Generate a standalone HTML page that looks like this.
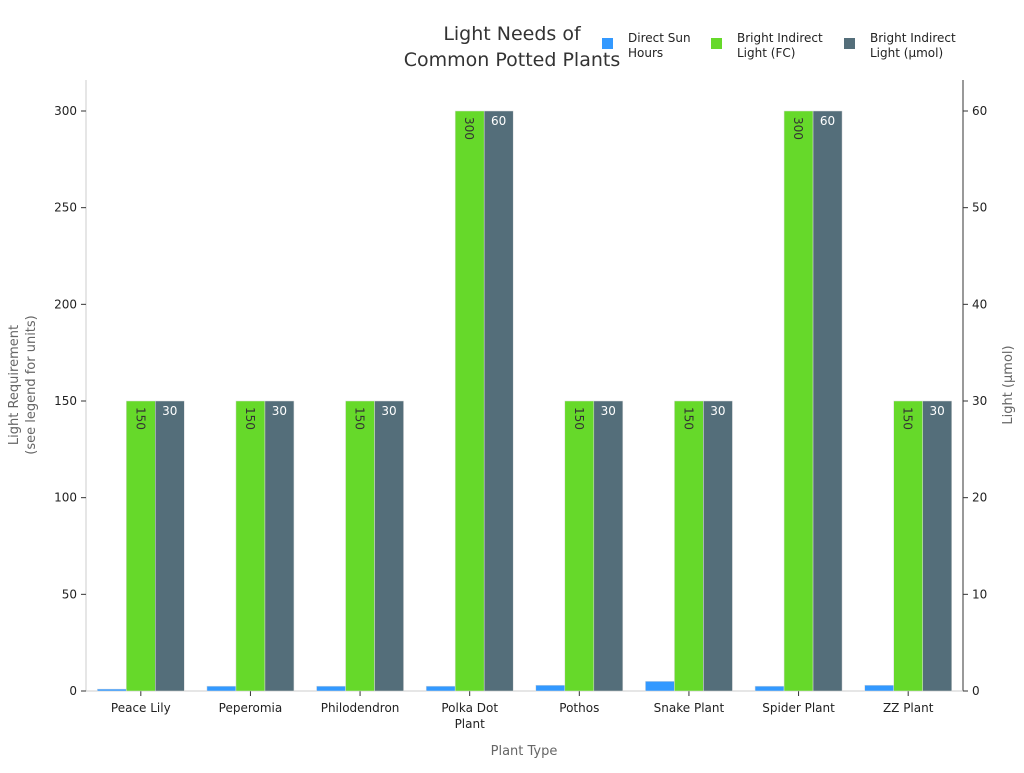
<!DOCTYPE html>
<html><head><meta charset="utf-8"><style>
body{margin:0;background:#fff;font-family:"Liberation Sans","DejaVu Sans",sans-serif;}
svg text{font-family:"DejaVu Sans","Liberation Sans",sans-serif;}
</style></head><body>
<svg id="c" width="1024" height="768" xmlns="http://www.w3.org/2000/svg"></svg>
<script>
const categories=["Peace Lily","Peperomia","Philodendron","Polka Dot|Plant","Pothos","Snake Plant","Spider Plant","ZZ Plant"];
const sunHours=[1,2.5,2.5,2.5,3,5,2.5,3];
const fcValues=[150,150,150,300,150,150,300,150];
const umolValues=[30,30,30,60,30,30,60,30];
const leftTicks=[0,50,100,150,200,250,300];
const rightTicks=[0,10,20,30,40,50,60];
const svg=document.getElementById('c');const NS="http://www.w3.org/2000/svg";
function el(t,a,txt,name){const e=document.createElementNS(NS,t);for(const k in a)e.setAttribute(k,a[k]);if(txt!==undefined)e.textContent=txt;


svg.appendChild(e);return e;}
const X0=86,X1=963,Y0=691,Y300=111;
const yL=v=>Y0-(v/300)*(Y0-Y300);
const yR=v=>Y0-(v/60)*(Y0-Y300);
const band=(X1-X0)/categories.length;
const cx=i=>X0+band*(i+0.5);
const bw=29;
// axes
el('line',{x1:X0,y1:80,x2:X0,y2:Y0,stroke:'#ccc'},undefined,'left-axis');
el('line',{x1:X1,y1:80,x2:X1,y2:Y0,stroke:'#333'},undefined,'right-axis');
el('line',{x1:X0,y1:Y0,x2:X1,y2:Y0,stroke:'#ccc'},undefined,'x-axis');
leftTicks.forEach(v=>{el('line',{x1:X0-5,y1:yL(v),x2:X0,y2:yL(v),stroke:'#333'},undefined,'left-tick');
el('text',{x:X0-9,y:yL(v)+4,'text-anchor':'end','font-size':12,fill:'#222'},v,'left-tick-label');});
rightTicks.forEach(v=>{el('line',{x1:X1,y1:yR(v),x2:X1+5,y2:yR(v),stroke:'#333'},undefined,'right-tick');
el('text',{x:X1+9,y:yR(v)+4,'font-size':12,fill:'#222'},v,'right-tick-label');});
categories.forEach((c,i)=>{const x=cx(i);
el('line',{x1:x,y1:Y0,x2:x,y2:Y0+5,stroke:'#333'},undefined,'x-tick');
c.split('|').forEach((p,j)=>el('text',{x:x,y:712+j*16,'text-anchor':'middle','font-size':12,fill:'#222'},p,'x-tick-label'));
const bx=x-1.5*bw;
el('rect',{x:bx,y:yL(sunHours[i]),width:bw,height:Y0-yL(sunHours[i]),fill:'#3399ff',stroke:'#ddd','stroke-width':0.5},undefined,'bar-sun-hours');
el('rect',{x:bx+bw,y:yL(fcValues[i]),width:bw,height:Y0-yL(fcValues[i]),fill:'#66d92a',stroke:'#ddd','stroke-width':0.5},undefined,'bar-fc');
el('rect',{x:bx+2*bw,y:yR(umolValues[i]),width:bw,height:Y0-yR(umolValues[i]),fill:'#546e7a',stroke:'#ddd','stroke-width':0.5},undefined,'bar-umol');
const gx=bx+bw+10,gy=yL(fcValues[i])+6;
el('text',{x:gx,y:gy,transform:`rotate(90 ${gx} ${gy})`,'font-size':12,fill:'#333'},fcValues[i],'fc-value-label');
el('text',{x:bx+2.5*bw,y:yR(umolValues[i])+14,'text-anchor':'middle','font-size':12,fill:'#fff'},umolValues[i],'umol-value-label');
});
el('text',{x:512,y:40,'text-anchor':'middle','font-size':19,fill:'#333'},'Light Needs of','chart-title');
el('text',{x:512,y:66,'text-anchor':'middle','font-size':19,fill:'#333'},'Common Potted Plants','chart-title');
el('text',{x:524,y:755,'text-anchor':'middle','font-size':13,fill:'#666'},'Plant Type','x-axis-title');
el('text',{x:0,y:0,transform:'translate(18 385) rotate(-90)','text-anchor':'middle','font-size':13,fill:'#666'},'Light Requirement','y-axis-title');
el('text',{x:0,y:0,transform:'translate(35 385) rotate(-90)','text-anchor':'middle','font-size':13,fill:'#666'},'(see legend for units)','y-axis-title');
el('text',{x:0,y:0,transform:'translate(1012 385) rotate(-90)','text-anchor':'middle','font-size':13,fill:'#666'},'Light (μmol)','y2-axis-title');
const leg=[["#3399ff",602,"Direct Sun","Hours"],["#66d92a",711,"Bright Indirect","Light (FC)"],["#546e7a",844,"Bright Indirect","Light (μmol)"]];
leg.forEach(l=>{el('rect',{x:l[1],y:38,width:11,height:11,fill:l[0]},undefined,'legend-swatch');
el('text',{x:l[1]+26,y:42,'font-size':12,fill:'#222'},l[2],'legend-label');
el('text',{x:l[1]+26,y:57,'font-size':12,fill:'#222'},l[3],'legend-label');});
</script></body></html>
